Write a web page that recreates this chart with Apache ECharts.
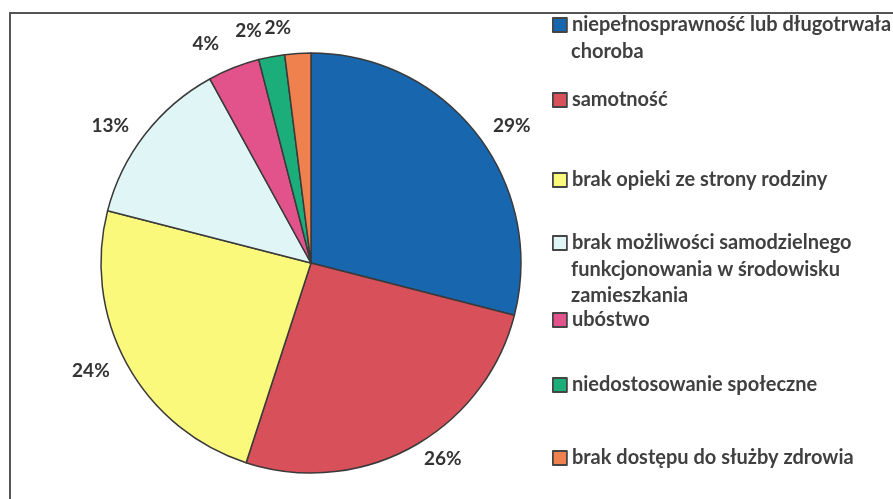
<!DOCTYPE html>
<html>
<head>
<meta charset="utf-8">
<script src="https://cdn.jsdelivr.net/npm/echarts@6/dist/echarts.min.js"></script>
<style>
  html, body { margin: 0; padding: 0; background: #fff; }
  #chart { width: 893px; height: 499px; }
</style>
</head>
<body>
<div id="chart"></div>
<script>
  // categories and shares (percent), clockwise from 12 o'clock
  const categories = [
    'niepełnosprawność lub długotrwała\nchoroba',
    'samotność',
    'brak opieki ze strony rodziny',
    'brak możliwości samodzielnego\nfunkcjonowania w środowisku\nzamieszkania',
    'ubóstwo',
    'niedostosowanie społeczne',
    'brak dostępu do służby zdrowia'
  ]
  const shares = [29, 26, 24, 13, 4, 2, 2]
  const colors = ['#1766ae', '#d8505a', '#fbf97c', '#e0f6f6', '#e2538b', '#1bae7a', '#ef814f']
  // vertical centre of each legend entry's first line
  const legendRows = [25, 100, 180, 243, 320, 385, 458]

  let chart = echarts.init(document.getElementById('chart'))
  let font = 'Lato, "Open Sans", sans-serif'
  let textColor = '#404040'

  // legend shows only the first line so the marker sits next to it
  let legends = categories.map(function (name, i) {
    return {
      data: [name],
      left: 552,
      top: legendRows[i] - 13,
      padding: 0,
      orient: 'vertical',
      icon: 'rect',
      itemWidth: 14,
      itemHeight: 14,
      selectedMode: false,
      formatter: function (n) { return n.split('\n')[0] },
      itemStyle: { borderColor: '#454545', borderWidth: 1.8 },
      textStyle: {
        fontFamily: font,
        fontWeight: 'bold',
        fontSize: 20,
        color: textColor,
        lineHeight: 26
      }
    }
  })

  // wrapped remainder of the long legend names
  let continuation = []
  categories.forEach(function (name, i) {
    let rest = name.split('\n').slice(1)
    if (rest.length) {
      continuation.push({
        type: 'text',
        left: 571,
        top: legendRows[i] + 13,
        style: {
          text: rest.join('\n'),
          font: 'bold 20px ' + font,
          fill: textColor,
          lineHeight: 26.5
        }
      })
    }
  })

  let option = {
    backgroundColor: '#fff',
    animation: false,
    color: colors,
    legend: legends,
    graphic: [{
      type: 'polyline',
      shape: { points: [[10, 499], [10, 13], [893, 13]] },
      style: { stroke: '#555', lineWidth: 2, fill: null }
    }].concat(continuation),
    series: [{
      type: 'pie',
      center: [311, 263],
      radius: 210,
      startAngle: 90,
      clockwise: true,
      avoidLabelOverlap: false,
      itemStyle: { borderColor: '#3a3a3a', borderWidth: 1.5 },
      label: {
        show: true,
        position: 'outside',
        formatter: '{c}%',
        fontFamily: font,
        fontWeight: 'bold',
        fontSize: 19,
        color: '#333'
      },
      labelLine: { show: false, length: 14, length2: 0 },
      data: categories.map(function (name, i) {
        let item = { name: name, value: shares[i] }
        // the thin slices near the top carry their labels a bit higher
        if (shares[i] < 5) item.labelLine = { length: 26 }
        return item
      })
    }]
  }
  chart.setOption(option)
</script>
</body>
</html>
